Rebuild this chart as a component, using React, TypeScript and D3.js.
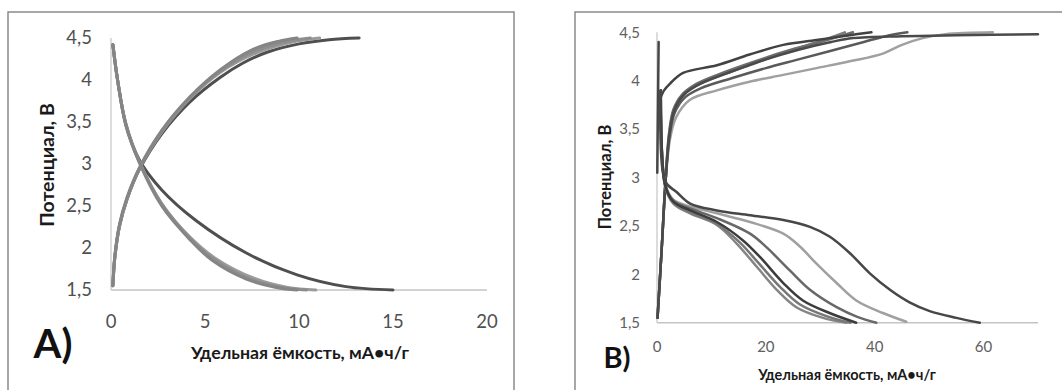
import * as d3 from 'd3';
import React, { useRef, useEffect } from 'react';

type Pt = [number, number];

// ---- axis ticks ----
const yTicks = [1.5, 2, 2.5, 3, 3.5, 4, 4.5];
const xTicksA = [0, 5, 10, 15, 20];
const xTicksB = [0, 20, 40, 60];

const yTitle = 'Потенциал, В';
const xTitle = 'Удельная ёмкость, мА•ч/г';

// ---- panel A: charge curves ----
const chargeA1: Pt[] = [[0.1, 1.55], [0.2, 1.9], [0.45, 2.28], [0.85, 2.6], [1.5, 2.95], [2.7, 3.4], [4.2, 3.8], [5.8, 4.12], [7.5, 4.36], [8.9, 4.46], [9.9, 4.5]];
const chargeA2: Pt[] = [[0.1, 1.55], [0.2, 1.88], [0.45, 2.26], [0.85, 2.58], [1.5, 2.94], [2.7, 3.39], [4.2, 3.79], [5.8, 4.1], [7.6, 4.34], [9.2, 4.45], [10.6, 4.5]];
const chargeA3: Pt[] = [[0.1, 1.55], [0.2, 1.88], [0.45, 2.26], [0.85, 2.58], [1.5, 2.94], [2.7, 3.38], [4.2, 3.78], [5.8, 4.09], [7.8, 4.33], [9.6, 4.45], [11.1, 4.5]];
const chargeA4: Pt[] = [[0.1, 1.55], [0.2, 1.88], [0.45, 2.26], [0.85, 2.58], [1.5, 2.93], [2.7, 3.36], [4.2, 3.74], [5.8, 4.03], [7, 4.2], [8.3, 4.33], [10, 4.43], [11.6, 4.48], [13.2, 4.5]];

// ---- panel A: discharge curves ----
const dischargeA1: Pt[] = [[0.1, 4.42], [0.35, 4.0], [0.8, 3.45], [1.5, 3.02], [2.7, 2.5], [4.2, 2.1], [5.4, 1.85], [7.2, 1.63], [8.8, 1.53], [9.9, 1.5]];
const dischargeA2: Pt[] = [[0.1, 4.42], [0.35, 4.0], [0.8, 3.46], [1.5, 3.03], [2.7, 2.52], [4.2, 2.12], [5.5, 1.86], [7.4, 1.63], [9.1, 1.53], [10.4, 1.5]];
const dischargeA3: Pt[] = [[0.1, 4.42], [0.35, 4.0], [0.8, 3.46], [1.5, 3.03], [2.7, 2.53], [4.2, 2.13], [5.6, 1.87], [7.6, 1.64], [9.4, 1.53], [10.9, 1.5]];
const dischargeA4: Pt[] = [[0.1, 4.42], [0.35, 4.0], [0.8, 3.47], [1.5, 3.05], [2.7, 2.69], [4.5, 2.33], [7.2, 1.94], [9.9, 1.68], [12.5, 1.54], [15, 1.5]];

// ---- panel B ----
const firstB: Pt[] = [[0.3, 4.4], [0.2, 3.85], [0.05, 3.05]];

const chargeB1: Pt[] = [[0.5, 3.8], [1.3, 3.9], [2.4, 3.97], [4.8, 4.08], [11, 4.16], [17, 4.27], [23.2, 4.37], [29.3, 4.42], [35.4, 4.47], [39.4, 4.5]];
const chargeB2: Pt[] = [[0.1, 1.55], [0.9, 2.3], [1.5, 2.9], [2.2, 3.45], [3, 3.7], [4.5, 3.85], [7, 3.96], [12, 4.08], [18, 4.2], [24, 4.31], [30, 4.4], [36, 4.5]];
const chargeB3: Pt[] = [[0.1, 1.55], [0.9, 2.3], [1.5, 2.9], [2.2, 3.43], [3, 3.68], [4.5, 3.83], [7, 3.94], [12, 4.06], [18, 4.18], [24, 4.3], [30, 4.41], [34.5, 4.5]];
const chargeB4: Pt[] = [[0.1, 1.55], [0.9, 2.3], [1.5, 2.9], [2.3, 3.42], [3.2, 3.66], [5, 3.82], [8, 3.92], [14, 4.03], [20, 4.13], [26, 4.22], [32, 4.31], [38, 4.4], [42, 4.46], [46, 4.5]];
const chargeB5: Pt[] = [[0.1, 1.55], [0.9, 2.3], [1.5, 2.9], [2.3, 3.45], [3.2, 3.7], [5, 3.86], [8, 3.97], [14, 4.1], [20, 4.22], [26, 4.32], [32, 4.4], [36, 4.44], [45, 4.46], [55, 4.47], [70, 4.48]];
const chargeB6: Pt[] = [[0.1, 1.55], [0.9, 2.3], [1.5, 2.9], [2.4, 3.4], [3.5, 3.62], [6, 3.8], [11, 3.9], [17, 3.99], [23.2, 4.06], [29.3, 4.13], [35.4, 4.2], [41.5, 4.28], [45, 4.37], [48.8, 4.44], [53, 4.48], [61.7, 4.5]];

const dischargeB1: Pt[] = [[0.7, 3.9], [1.5, 2.96], [3.6, 2.85], [6.1, 2.73], [11, 2.66], [17.1, 2.61], [23.2, 2.56], [28.1, 2.49], [31.7, 2.39], [35.4, 2.22], [39.1, 2.01], [42.8, 1.84], [46.4, 1.71], [50.1, 1.62], [55, 1.55], [59.3, 1.5]];
const dischargeB2: Pt[] = [[0.7, 3.9], [1.5, 2.94], [3, 2.77], [6.1, 2.7], [11, 2.63], [17.1, 2.54], [23.2, 2.42], [26.2, 2.29], [29.3, 2.11], [33, 1.91], [36.6, 1.73], [41.5, 1.6], [45.8, 1.51]];
const dischargeB3: Pt[] = [[0.7, 3.9], [1.5, 2.93], [3, 2.76], [6.1, 2.68], [11, 2.58], [17.1, 2.42], [20.1, 2.28], [24.4, 2.04], [28.1, 1.84], [33, 1.66], [36.8, 1.56], [40.3, 1.5]];
const dischargeB4: Pt[] = [[0.7, 3.9], [1.5, 2.92], [3, 2.75], [6.1, 2.66], [11, 2.54], [15.8, 2.35], [18.9, 2.18], [23.2, 1.91], [26.8, 1.73], [31.7, 1.6], [36.6, 1.5]];
const dischargeB5: Pt[] = [[0.7, 3.9], [1.5, 2.91], [3, 2.73], [6.1, 2.63], [11, 2.51], [14.6, 2.32], [18.3, 2.08], [22, 1.84], [25.6, 1.66], [30.5, 1.55], [34.8, 1.5]];
const dischargeB6: Pt[] = [[0.7, 3.9], [1.5, 2.91], [3, 2.74], [6.1, 2.64], [11, 2.52], [15.2, 2.33], [18.6, 2.12], [22.6, 1.87], [26.2, 1.69], [31, 1.57], [35.5, 1.5]];

const FONT = 'Lato, "Open Sans", sans-serif';

function drawPanel(svg: any, opt: any) {
    const g = svg.append('g');

    // frame around the panel
    g.append('rect')
        .attr('x', opt.box.x)
        .attr('y', opt.box.y)
        .attr('width', opt.box.w)
        .attr('height', opt.box.h)
        .attr('fill', 'white')
        .attr('stroke', '#8a8a8a')
        .attr('stroke-width', 1.5);

    const x = d3.scaleLinear().domain(opt.xDomain).range([opt.plot.left, opt.plot.right]);
    const y = d3.scaleLinear().domain([1.5, 4.5]).range([opt.plot.bottom, opt.plot.top]);

    // axis lines (Excel style, no tick marks)
    g.append('line')
        .attr('x1', x(opt.xDomain[0])).attr('x2', x(opt.xDomain[1]))
        .attr('y1', y(1.5)).attr('y2', y(1.5))
        .attr('stroke', '#c4c4c4').attr('stroke-width', 1.5);
    g.append('line')
        .attr('x1', x(0)).attr('x2', x(0))
        .attr('y1', y(1.5)).attr('y2', y(4.5))
        .attr('stroke', '#d0d0d0').attr('stroke-width', 1.5);

    g.selectAll('text.ytick')
        .data(yTicks)
        .join('text')
        .attr('class', 'ytick')
        .attr('x', opt.yLabelX)
        .attr('y', (d: number) => y(d))
        .attr('dy', '0.35em')
        .attr('text-anchor', 'end')
        .attr('font-family', FONT)
        .attr('font-size', opt.tickSize)
        .attr('fill', opt.tickColor)
        .text((d: number) => String(d).replace('.', ','));

    g.selectAll('text.xtick')
        .data(opt.xTicks)
        .join('text')
        .attr('class', 'xtick')
        .attr('x', (d: number) => x(d))
        .attr('y', opt.xLabelY)
        .attr('dy', '0.35em')
        .attr('text-anchor', 'middle')
        .attr('font-family', FONT)
        .attr('font-size', opt.tickSize)
        .attr('fill', opt.tickColor)
        .text((d: number) => d);

    // curves
    const line = d3.line<Pt>()
        .x((d) => x(d[0]))
        .y((d) => y(d[1]))
        .curve(d3.curveCatmullRom.alpha(0.5));

    opt.series.forEach((s: any) => {
        g.append('path')
            .attr('d', line(s.data))
            .attr('fill', 'none')
            .attr('stroke', s.color)
            .attr('stroke-width', opt.lineWidth)
            .attr('stroke-linecap', 'round')
            .attr('stroke-linejoin', 'round');
    });

    // titles
    g.append('text')
        .attr('transform', `translate(${opt.yTitle.x}, ${opt.yTitle.y}) rotate(-90)`)
        .attr('text-anchor', 'middle')
        .attr('dy', '0.35em')
        .attr('font-family', FONT)
        .attr('font-weight', 'bold')
        .attr('font-size', opt.yTitle.size)
        .attr('fill', '#1a1a1a')
        .text(yTitle);

    g.append('text')
        .attr('x', opt.xTitle.x)
        .attr('y', opt.xTitle.y)
        .attr('dy', '0.35em')
        .attr('text-anchor', 'middle')
        .attr('font-family', FONT)
        .attr('font-weight', 'bold')
        .attr('font-size', opt.xTitle.size)
        .attr('fill', '#1a1a1a')
        .text(xTitle);

    g.append('text')
        .attr('x', opt.tag.x)
        .attr('y', opt.tag.y)
        .attr('text-anchor', 'middle')
        .attr('font-family', FONT)
        .attr('font-weight', 'bold')
        .attr('font-size', opt.tag.size)
        .attr('fill', '#111')
        .text(opt.tag.text);
}

const App = () => {
    const ref = useRef<SVGSVGElement>(null);

    useEffect(() => {
        const svg = d3.select(ref.current);
        svg.selectAll('*').remove();

        const gray = '#8d8d8d';
        const dark = '#4f4f4f';

        drawPanel(svg, {
            box: { x: 8, y: 12, w: 506, h: 400 },
            plot: { left: 111, right: 487, top: 38, bottom: 290 },
            xDomain: [0, 20],
            xTicks: xTicksA,
            yLabelX: 92,
            xLabelY: 322,
            tickSize: 18.5,
            tickColor: '#505050',
            lineWidth: 3,
            yTitle: { x: 47, y: 165, size: 19.5 },
            xTitle: { x: 300, y: 353, size: 17.8 },
            tag: { x: 53, y: 358, size: 40, text: 'A)' },
            series: [
                { data: chargeA4, color: dark },
                { data: dischargeA4, color: dark },
                { data: chargeA3, color: '#9a9a9a' },
                { data: chargeA2, color: gray },
                { data: chargeA1, color: '#858585' },
                { data: dischargeA3, color: '#9a9a9a' },
                { data: dischargeA2, color: gray },
                { data: dischargeA1, color: '#858585' },
            ],
        });

        drawPanel(svg, {
            box: { x: 575, y: 12, w: 500, h: 400 },
            plot: { left: 657, right: 1038, top: 32.3, bottom: 322.7 },
            xDomain: [0, 70],
            xTicks: xTicksB,
            yLabelX: 640,
            xLabelY: 347,
            tickSize: 15,
            tickColor: '#606060',
            lineWidth: 2.5,
            yTitle: { x: 605, y: 177, size: 16.5 },
            xTitle: { x: 847, y: 375, size: 14.5 },
            tag: { x: 617, y: 368, size: 29, text: 'B)' },
            series: [
                { data: chargeB6, color: '#a0a0a0' },
                { data: chargeB3, color: '#7d7d7d' },
                { data: chargeB2, color: '#6c6c6c' },
                { data: chargeB4, color: '#5a5a5a' },
                { data: chargeB5, color: '#4a4a4a' },
                { data: chargeB1, color: '#424242' },
                { data: dischargeB2, color: '#a0a0a0' },
                { data: dischargeB5, color: '#858585' },
                { data: dischargeB6, color: '#777' },
                { data: dischargeB3, color: '#686868' },
                { data: dischargeB4, color: '#3c3c3c' },
                { data: dischargeB1, color: '#474747' },
                { data: firstB, color: '#474747' },
            ],
        });
    }, []);

    return (
        <svg
            ref={ref}
            width={1062}
            height={390}
            style={{ position: 'absolute', left: 0, top: 0, background: 'white' }}
        />
    );
};

export default App;
